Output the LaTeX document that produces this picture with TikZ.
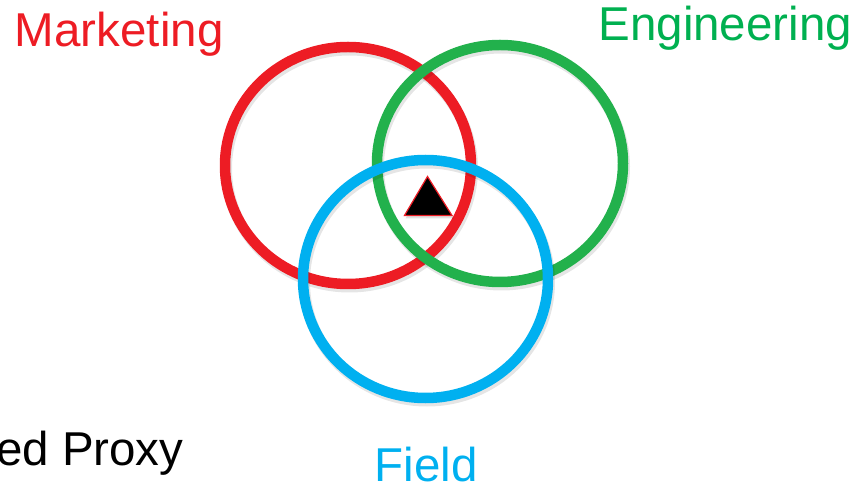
\documentclass[tikz,border=0pt]{standalone}
\usepackage{fontspec}
\setmainfont{Liberation Sans}
\usetikzlibrary{shapes.geometric}
\definecolor{mred}{RGB}{237,28,36}
\definecolor{mgreen}{RGB}{34,177,76}
\definecolor{mgreentext}{RGB}{0,176,80}
\definecolor{mblue}{RGB}{0,176,240}
\tikzset{
  ring/.style={draw=#1, line width=10.5pt, ellipse, minimum width=246pt, minimum height=237pt, inner sep=0pt, outer sep=0pt},
  ringshadow/.style={draw=black, draw opacity=0.10, line width=11pt, ellipse, minimum width=246pt, minimum height=237pt, inner sep=0pt, outer sep=0pt},
  lbl/.style={text=#1, font=\fontsize{47.5pt}{52pt}\selectfont, inner sep=0pt, outer sep=0pt}
}
\begin{document}
\begin{tikzpicture}[x=1pt, y=-1pt]
\useasboundingbox (0,0) rectangle (860,486);
\clip (0,0) rectangle (860,486);
% red ring
\node[ringshadow] (redsh) at (349.5,168.5) {};
\node[ring=mred] (red) at (348,165.5) {};
% green ring
\node[ringshadow] (greensh) at (501.5,166.5) {};
\node[ring=mgreen] (green) at (500,163.5) {};
% blue ring
\node[ringshadow, minimum width=245pt, minimum height=238pt] (bluesh) at (427,282) {};
\node[ring=mblue, minimum width=245pt, minimum height=238pt] (blue) at (425.5,279) {};
% triangle
\fill[black, opacity=0.12] (429,179) -- (454,218.5) -- (405.5,218.5) -- cycle;
\draw[fill=black, draw=mred, line width=1.2pt, line join=miter] (427.5,176.5) -- (452,215.5) -- (404.5,215.5) -- cycle;
% labels
\node[lbl=mred, anchor=base west] (mkt) at (15,47) {Marketing};
\node[lbl=mgreentext, anchor=base west] (eng) at (598.5,41) {Engineering};
\node[lbl=mblue, anchor=base west] (fld) at (374.5,481.5) {Field};
\node[lbl=black, anchor=base east] (prx) at (183.5,465) {ed Proxy};
\end{tikzpicture}
\end{document}
